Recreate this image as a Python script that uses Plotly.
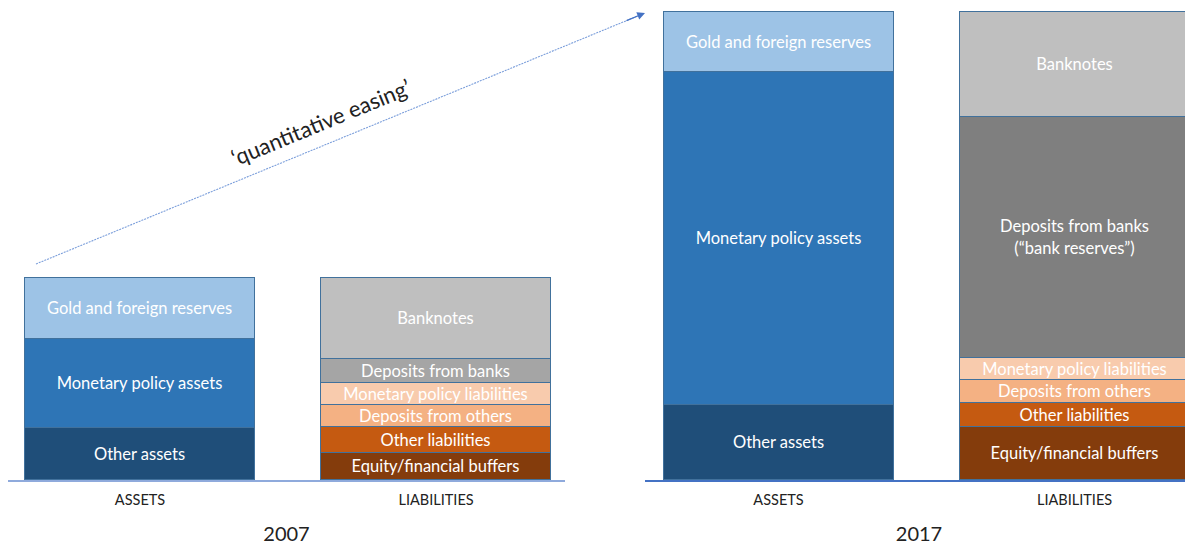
import plotly.graph_objects as go
from plotly.subplots import make_subplots

# ---------------- data ----------------
categories = ["ASSETS", "LIABILITIES"]
years = ["2007", "2017"]

asset_items = ["Other assets", "Monetary policy assets", "Gold and foreign reserves"]
assets_2007 = [52, 89, 61]
assets_2017 = [75, 333, 60]

liab_items = ["Equity/financial buffers", "Other liabilities", "Deposits from others",
              "Monetary policy liabilities", "Deposits from banks", "Banknotes"]
liab_labels_2007 = liab_items
liab_labels_2017 = ["Equity/financial buffers", "Other liabilities", "Deposits from others",
                    "Monetary policy liabilities", "Deposits from banks<br>(\u201cbank reserves\u201d)", "Banknotes"]
liab_2007 = [27, 26, 22, 22, 24, 81]
liab_2017 = [53, 24, 23, 22, 241, 105]

# ---------------- styles ----------------
asset_colors = ["#1F4E79", "#2E75B6", "#9DC3E6"]
liab_colors_2007 = ["#843C0C", "#C55A11", "#F4B183", "#F8CBAD", "#A5A5A5", "#BFBFBF"]
liab_colors_2017 = ["#843C0C", "#C55A11", "#F4B183", "#F8CBAD", "#7F7F7F", "#BFBFBF"]
FONT = "Lato"
OFF = 8                      # page body margin
W, H = 1193 - OFF, 546 - OFF
BASE = 480                   # screen y of baseline
PLOT_H = BASE - OFF          # plot area height (1 unit = 1 px)
LBL = 16.5

fig = make_subplots(rows=1, cols=2)

def add_stack(col, xpos, names, labels, values, colors):
    for name, lab, v, c in zip(names, labels, values, colors):
        fig.add_trace(go.Bar(
            x=[xpos], y=[v], name=name, text=[lab],
            textposition="inside", insidetextanchor="middle", textangle=0,
            textfont=dict(family=FONT, size=LBL, color="white"),
            marker=dict(color=c, line=dict(color="#41719C", width=1)),
            width=0.777, showlegend=False, hoverinfo="name+y",
        ), row=1, col=col)

add_stack(1, 0, asset_items, asset_items, assets_2007, asset_colors)
add_stack(1, 1, liab_items, liab_labels_2007, liab_2007, liab_colors_2007)
add_stack(2, 0, asset_items, asset_items, assets_2017, asset_colors)
add_stack(2, 1, liab_items, liab_labels_2017, liab_2017, liab_colors_2017)

def sx(x):
    return (x - OFF) / W

def sy(y):
    return (BASE - y) / PLOT_H

xcommon = dict(tickvals=[0, 1], ticktext=categories, showgrid=False, zeroline=False,
               showline=True, ticks="", tickfont=dict(family=FONT, size=14.5, color="#222"),
               ticklabelstandoff=6,
               title_font=dict(family=FONT, size=20, color="#222"), title_standoff=20)
fig.update_xaxes(xcommon)
fig.update_xaxes(domain=[sx(8), sx(565)], range=[-0.446, 1.4355], linecolor="#8FAADC",
                 linewidth=1.5, title_text=years[0], row=1, col=1)
fig.update_xaxes(domain=[sx(645), 1.0], range=[-0.451, 1.400], linecolor="#4472C4",
                 linewidth=1.5, title_text=years[1], row=1, col=2)
fig.update_yaxes(range=[0, PLOT_H], showgrid=False, zeroline=False, showticklabels=False,
                 showline=False)

# arrow "quantitative easing"
x0, y0, x1, y1 = 36, 264, 645, 13
fig.add_shape(type="line", xref="paper", yref="paper", x0=sx(x0), y0=sy(y0), x1=sx(x1 - 8), y1=sy(y1 + 3.3),
              line=dict(color="#7C9FDB", width=1.1, dash="2px,1px"))
fig.add_annotation(xref="paper", yref="paper", x=sx(x1), y=sy(y1), ax=-20, ay=8.2,
                   axref="pixel", ayref="pixel", showarrow=True, arrowhead=2, arrowsize=1.2,
                   arrowwidth=1.3, arrowcolor="#4472C4", text="")
fig.add_annotation(xref="paper", yref="paper", x=sx(320), y=sy(122), xanchor="center", yanchor="middle",
                   text="\u2018quantitative easing\u2019",
                   showarrow=False, textangle=-22.4, font=dict(family=FONT, size=22, color="#222"))

fig.update_layout(width=W, height=H, barmode="stack", bargap=0,
                  margin=dict(l=0, r=0, t=0, b=H - PLOT_H),
                  paper_bgcolor="white", plot_bgcolor="white",
                  uniformtext=dict(mode="show", minsize=LBL))

fig.write_html("out.html")
